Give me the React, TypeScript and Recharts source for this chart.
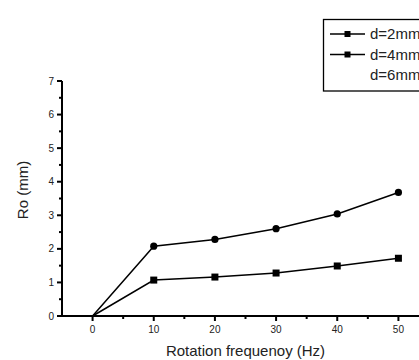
import React from "react";
import { LineChart, Line, XAxis, YAxis, Legend, Label } from "recharts";

const frequency = [0, 10, 20, 30, 40, 50];
const ro2mm = [0, 1.07, 1.16, 1.28, 1.49, 1.72];
const ro4mm = [0, 2.08, 2.28, 2.6, 3.04, 3.68];
const seriesNames = ["d=2mm", "d=4mm", "d=6mm"];
const xTicks = [0, 5, 10, 15, 20, 25, 30, 35, 40, 45, 50];
const yTicks = [0, 0.5, 1, 1.5, 2, 2.5, 3, 3.5, 4, 4.5, 5, 5.5, 6, 6.5, 7];

const data = frequency.map((f, i) => ({ f, d2: ro2mm[i], d4: ro4mm[i] }));

const FONT = '"Liberation Sans", Arial, sans-serif';
const INK = "#000";
const TEXT = "#222";

const YTick = (props: any) => {
  const { x, y, payload } = props;
  const major = Number.isInteger(payload.value);
  return (
    <g>
      <line x1={x} x2={x - (major ? 5 : 3)} y1={y} y2={y} stroke={INK} strokeWidth={2} />
      {major && (
        <text x={x - 8} y={y} dy={3.5} textAnchor="end" fontSize={10} fill={TEXT} fontFamily={FONT}>
          {payload.value}
        </text>
      )}
    </g>
  );
};

const XTick = (props: any) => {
  const { x, y, payload } = props;
  const major = payload.value % 10 === 0;
  return (
    <g>
      <line x1={x} x2={x} y1={y} y2={y + (major ? 5 : 3)} stroke={INK} strokeWidth={2} />
      {major && (
        <text x={x} y={y + 17} textAnchor="middle" fontSize={10} fill={TEXT} fontFamily={FONT}>
          {payload.value}
        </text>
      )}
    </g>
  );
};

const squareDot = (props: any) => {
  const { cx, cy, index } = props;
  if (index === 0) return <g key={index} />;
  return <rect key={index} x={cx - 3.5} y={cy - 3.5} width={7} height={7} fill={INK} />;
};

const circleDot = (props: any) => {
  const { cx, cy, index } = props;
  if (index === 0) return <g key={index} />;
  return <circle key={index} cx={cx} cy={cy} r={3.6} fill={INK} />;
};

const LegendBox = () => (
  <svg width={140} height={73} style={{ display: "block", overflow: "visible" }}>
    <rect x={0.5} y={0.5} width={160} height={71.5} fill="#fff" stroke={INK} strokeWidth={1.3} />
    {seriesNames.map((name, i) => {
      const cy = 15 + i * 20.5;
      return (
        <g key={name}>
          {i < 2 && (
            <>
              <line x1={7} x2={42} y1={cy} y2={cy} stroke={INK} strokeWidth={1.5} />
              <rect x={21.5} y={cy - 3} width={6} height={6} fill={INK} />
            </>
          )}
          <text x={47} y={cy} dy={5} fontSize={15} fill={TEXT} fontFamily={FONT}>
            {name}
          </text>
        </g>
      );
    })}
  </svg>
);

export default function App() {
  return (
    <div
      style={{
        position: "absolute",
        left: 0,
        top: 0,
        width: 419,
        height: 360,
        overflow: "hidden",
        background: "#fff",
      }}
    >
      <LineChart width={440} height={360} data={data} margin={{ top: 81, right: 11, bottom: 14, left: 0 }}>
        <XAxis
          dataKey="f"
          type="number"
          domain={[-5, 55]}
          ticks={xTicks}
          interval={0}
          height={30}
          tickSize={0}
          tickMargin={0}
          tickLine={false}
          tick={XTick}
          axisLine={{ stroke: INK, strokeWidth: 2 }}
        >
          <Label
            content={(p: any) => (
              <text
                x={p.viewBox.x + p.viewBox.width / 2}
                y={p.viewBox.y + 40}
                textAnchor="middle"
                fontSize={15}
                fill={TEXT}
                fontFamily={FONT}
              >
                Rotation frequenoy (Hz)
              </text>
            )}
          />
        </XAxis>
        <YAxis
          type="number"
          domain={[0, 7]}
          ticks={yTicks}
          interval={0}
          width={62}
          tickSize={0}
          tickMargin={0}
          tickLine={false}
          tick={YTick}
          axisLine={{ stroke: INK, strokeWidth: 2 }}
        >
          <Label
            content={() => (
              <text
                x={28}
                y={190}
                transform="rotate(-90, 28, 190)"
                textAnchor="middle"
                fontSize={15}
                fill={TEXT}
                fontFamily={FONT}
              >
                Ro (mm)
              </text>
            )}
          />
        </YAxis>
        <Legend
          layout="vertical"
          align="center"
          verticalAlign="middle"
          content={() => <LegendBox />}
          wrapperStyle={{ left: 323, top: 19, width: 140, height: 73 }}
        />
        <Line
          dataKey="d2"
          name={seriesNames[0]}
          stroke={INK}
          strokeWidth={1.5}
          dot={squareDot}
          activeDot={false}
          isAnimationActive={false}
        />
        <Line
          dataKey="d4"
          name={seriesNames[1]}
          stroke={INK}
          strokeWidth={1.5}
          dot={circleDot}
          activeDot={false}
          isAnimationActive={false}
        />
      </LineChart>
    </div>
  );
}
